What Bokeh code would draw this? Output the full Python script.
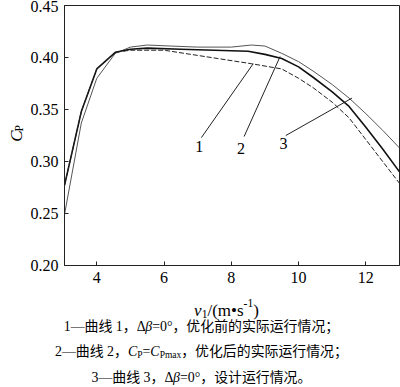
import math
from bokeh.plotting import figure
from bokeh.layouts import column, row
from bokeh.models import Label, Range1d, FixedTicker, PrintfTickFormatter
from bokeh.embed import file_html
from bokeh.resources import INLINE

# ---------------- data ----------------
# curve 1: dashed, before optimisation (actual operation)
curve1_v = [3.04, 3.54, 4.0, 4.55, 5.0, 6.0, 6.6, 7.0, 7.6, 8.6, 9.5, 10.0, 10.43, 11.0, 11.5, 12.0, 12.5, 13.0]
curve1_cp = [0.277, 0.348, 0.389, 0.405, 0.407, 0.407, 0.404, 0.402, 0.399, 0.394, 0.389, 0.380, 0.371, 0.357, 0.342, 0.321, 0.300, 0.279]
# curve 2: thick solid, Cp = Cpmax after optimisation
curve2_v = [3.04, 3.54, 4.0, 4.55, 5.0, 5.5, 6.5, 7.5, 8.5, 9.0, 9.5, 10.0, 10.43, 11.0, 11.5, 12.0, 12.5, 13.0]
curve2_cp = [0.277, 0.348, 0.389, 0.405, 0.408, 0.409, 0.408, 0.407, 0.406, 0.403, 0.399, 0.391, 0.381, 0.367, 0.353, 0.333, 0.312, 0.290]
# curve 3: thin solid, design operation
curve3_v = [3.04, 3.54, 4.0, 4.55, 5.0, 5.5, 6.2, 7.0, 8.0, 8.6, 9.0, 9.5, 10.0, 10.43, 11.0, 11.5, 12.0, 12.5, 13.0]
curve3_cp = [0.249, 0.337, 0.380, 0.404, 0.410, 0.412, 0.411, 0.410, 0.410, 0.412, 0.411, 0.404, 0.396, 0.387, 0.374, 0.361, 0.346, 0.330, 0.313]

x_ticks = [4, 6, 8, 10, 12]
y_ticks = [0.20, 0.25, 0.30, 0.35, 0.40, 0.45]
x_lim = [3.04, 13.0]
y_lim = [0.20, 0.45]

# curve number labels and leader lines (data coordinates)
num_text = ["1", "2", "3"]
num_v = [7.05, 8.29, 9.55]
num_cp = [0.3144, 0.3125, 0.3173]
lead_v0 = [7.11, 8.38, 9.62]
lead_cp0 = [0.323, 0.324, 0.325]
lead_v1 = [8.65, 9.45, 11.59]
lead_cp1 = [0.394, 0.401, 0.361]

# axis titles and caption (text runs: n normal, i italic, sub, sup)
x_title = [("v", "i"), ("1", "sub"), ("/(m\u2022s", "n"), ("-1", "sup"), (")", "n")]
y_title = [("C", "i"), ("P", "sub")]
caption_lines = [
    [("1—曲线 1，Δ", "n"), ("β", "i"), ("=0°，优化前的实际运行情况；", "n")],
    [("2—曲线 2，", "n"), ("C", "i"), ("P", "sub"), ("=", "n"), ("C", "i"), ("Pmax", "sub"), ("，优化后的实际运行情况；", "n")],
    [("3—曲线 3，Δ", "n"), ("β", "i"), ("=0°，设计运行情况。", "n")],
]

# ---------------- layout ----------------
W, H = 400, 387
LW = 26                 # narrow strip holding the rotated y title
MAIN_W, MAIN_H = W - LW, 292
BOT_H = H - MAIN_H

SERIF = "Liberation Serif"
CAP_FONT = "Liberation Serif, Noto Sans CJK SC"

fig = figure(width=MAIN_W, height=MAIN_H, output_backend="svg", toolbar_location=None,
             x_range=Range1d(*x_lim), y_range=Range1d(*y_lim), title=None,
             min_border_left=64 - LW, min_border_right=1, min_border_top=5, min_border_bottom=27)
fig.background_fill_color = "white"
fig.border_fill_color = "white"
fig.outline_line_color = "#222222"
fig.outline_line_width = 1
fig.xgrid.visible = False
fig.ygrid.visible = False

fig.xaxis.ticker = FixedTicker(ticks=x_ticks)
fig.yaxis.ticker = FixedTicker(ticks=y_ticks)
fig.yaxis.formatter = PrintfTickFormatter(format="%.2f")
for ax in list(fig.xaxis) + list(fig.yaxis):
    ax.major_tick_in = 4
    ax.major_tick_out = 0
    ax.minor_tick_in = 0
    ax.minor_tick_out = 0
    ax.axis_line_color = "#222222"
    ax.major_tick_line_color = "#222222"
    ax.major_label_text_font = SERIF
    ax.major_label_text_font_size = "16px"
    ax.major_label_text_color = "black"
    ax.major_label_standoff = 6

fig.line(curve3_v, curve3_cp, line_color="#555555", line_width=1.0)
fig.line(curve2_v, curve2_cp, line_color="#111111", line_width=1.6)
fig.line(curve1_v, curve1_cp, line_color="#222222", line_width=1.0, line_dash="5 2")

fig.segment(x0=lead_v0, y0=lead_cp0, x1=lead_v1, y1=lead_cp1, line_color="#222222", line_width=1)

for t, xv, yv in zip(num_text, num_v, num_cp):
    fig.add_layout(Label(x=xv, y=yv, text=t, text_align="center", text_baseline="middle",
                         text_font=SERIF, text_font_size="16px", text_color="black"))


def blank_fig(w, h):
    f = figure(width=w, height=h, output_backend="svg", toolbar_location=None,
               x_range=Range1d(0, w), y_range=Range1d(0, h), title=None,
               x_axis_type=None, y_axis_type=None, min_border=0)
    f.min_border_left = f.min_border_right = f.min_border_top = f.min_border_bottom = 0
    f.outline_line_color = None
    f.background_fill_color = "white"
    f.border_fill_color = "white"
    return f


left_fig = blank_fig(LW, MAIN_H)
bot_fig = blank_fig(W, BOT_H)

EM = {" ": 0.25, "Δ": 0.612, "β": 0.5, "=": 0.564, "°": 0.4, "C": 0.667, "P": 0.556,
      "m": 0.778, "a": 0.444, "x": 0.5, "v": 0.444, "/": 0.278, "(": 0.333, ")": 0.333,
      "\u2022": 0.35, "s": 0.389, "-": 0.333, "—": 1.0}


def est_w(s, size):
    tot = 0.0
    for ch in s:
        if ch in EM:
            tot += EM[ch]
        elif ch.isdigit():
            tot += 0.5
        elif ord(ch) > 0x2000:
            tot += 1.0
        else:
            tot += 0.5
    return tot * size


def piece_size(role, base):
    return base * 0.68 if role in ("sub", "sup") else base


def place_run(f, fh, pieces, cx, cy, base, font):
    # cx, cy: centre of the run in the figure's own pixels (top-left origin)
    total = sum(est_w(t, piece_size(r, base)) for t, r in pieces)
    x = cx - total / 2
    baseline = cy + 0.36 * base
    for t, r in pieces:
        sz = piece_size(r, base)
        dy = {"sub": 0.22 * base, "sup": -0.42 * base}.get(r, 0.0)
        f.add_layout(Label(x=x, y=fh - (baseline + dy), text=t,
                           text_font=font, text_font_size=f"{sz:.1f}px",
                           text_font_style="italic" if r == "i" else "normal",
                           text_align="left", text_baseline="alphabetic",
                           text_color="black"))
        x += est_w(t, sz)


def place_run_vertical(f, fh, pieces, base_x, cy, base, font):
    total = sum(est_w(t, piece_size(r, base)) for t, r in pieces)
    y = cy + total / 2
    for t, r in pieces:
        sz = piece_size(r, base)
        dx = {"sub": 0.16 * base, "sup": -0.42 * base}.get(r, 0.0)
        f.add_layout(Label(x=base_x + dx, y=fh - y, text=t, angle=math.pi / 2,
                           text_font=font, text_font_size=f"{sz:.1f}px",
                           text_font_style="italic" if r == "i" else "normal",
                           text_align="left", text_baseline="alphabetic",
                           text_color="black"))
        y -= est_w(t, sz)


place_run_vertical(left_fig, MAIN_H, y_title, 16, 144, 17, SERIF)
place_run(bot_fig, BOT_H, x_title, 226, 304 - MAIN_H, 17, SERIF)
for line, cy in zip(caption_lines, [321, 346, 372]):
    place_run(bot_fig, BOT_H, line, 201, cy - MAIN_H, 13.9, CAP_FONT)

p = column(row(left_fig, fig, spacing=0), bot_fig, spacing=0)

open("out.html", "w").write(file_html(p, INLINE))
